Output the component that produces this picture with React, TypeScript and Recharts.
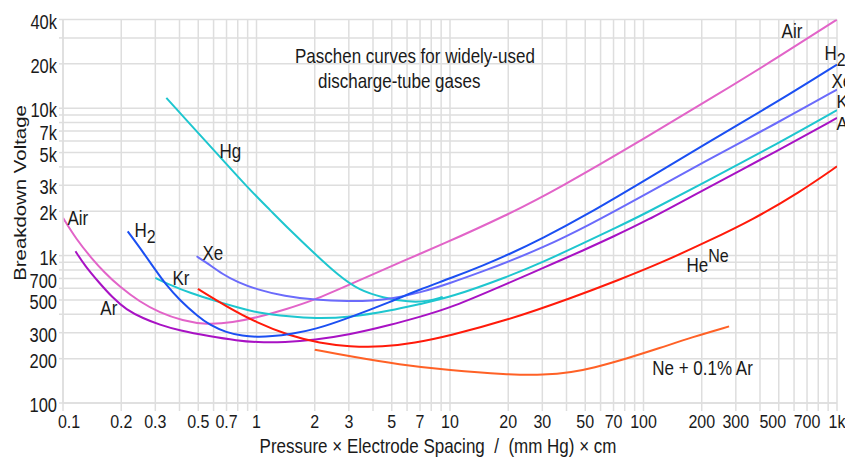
import React from 'react';
import { LineChart, Line, XAxis, YAxis, CartesianGrid, ReferenceDot } from 'recharts';

// ---- Data: pressure x spacing (mm Hg x cm) and breakdown voltage (V) ----
const AIR_P = [0.1, 0.1174, 0.14, 0.1638, 0.196, 0.2485, 0.3153, 0.4147, 0.5496, 0.751, 1.036, 1.43, 1.954, 3.024, 5.94, 8.83, 19.5, 36.8, 95.3, 247, 504, 1000];
const AIR_V = [1803, 1284, 965, 767, 616, 487, 411, 362, 340, 351, 384, 434, 495, 636, 940, 1169, 1868, 2880, 5963, 12620, 22460, 40000];

const H2_P = [0.216, 0.26, 0.3, 0.34, 0.4, 0.5, 0.57, 0.7, 0.85, 1, 1.2, 1.5, 2, 3, 5, 7, 10, 15, 20, 30, 50, 100, 200, 500, 1000];
const H2_V = [1460, 1050, 800, 636, 500, 385, 340, 300, 285, 281, 283, 293, 315, 378, 490, 590, 700, 863, 1014, 1307, 1870, 3200, 5550, 11200, 19800];

const XE_P = [0.49, 0.55, 0.67, 0.8, 1, 1.4, 2, 3, 4, 5, 7, 10, 15, 20, 30, 50, 100, 200, 500, 1000];
const XE_V = [990, 900, 745, 660, 590, 530, 500, 490, 495, 510, 560, 650, 788, 910, 1130, 1560, 2560, 4250, 8050, 13400];

const KR_P = [0.3, 0.37, 0.45, 0.62, 0.8, 1, 1.5, 2, 3, 5, 7, 10, 20, 30, 50, 70, 100, 200, 500, 1000];
const KR_V = [706, 620, 560, 490, 445, 410, 385, 375, 380, 425, 470, 520, 720, 900, 1230, 1520, 1900, 3080, 5800, 9700];

const AR_P = [0.116, 0.13, 0.154, 0.18, 0.212, 0.26, 0.315, 0.4, 0.57, 0.8, 1, 1.4, 2, 3, 5, 7, 10, 20, 30, 50, 70, 100, 200, 500, 1000];
const AR_V = [1070, 850, 653, 520, 430, 375, 340, 310, 284, 265, 258, 258, 268, 290, 340, 385, 440, 650, 820, 1100, 1350, 1680, 2750, 5200, 8600];

const NE_P = [0.498, 0.7, 1, 1.48, 2.12, 3.02, 4.48, 6.56, 9.9, 19.5, 43, 75.1, 121, 219, 367, 640, 1000];
const NE_V = [594, 451, 351, 286, 255, 241, 239.5, 255, 286, 362, 519, 687, 883, 1264, 1755, 2686, 4030];

const HG_P = [0.342, 0.45, 0.644, 0.92, 1.17, 1.48, 1.99, 2.68, 3.4, 4.48, 6.17, 7.83, 9.17];
const HG_V = [11750, 7890, 4720, 2806, 2050, 1500, 1035, 724, 582, 519, 482, 491, 525];

const NEAR_P = [2, 3.02, 5.48, 9.9, 19.5, 30.8, 42.9, 54.6, 81.7, 121, 179, 277];
const NEAR_V = [230, 207.5, 182, 166.6, 156, 154.6, 162, 172.6, 200, 235.6, 280, 331];

// ---- Axis ticks ----
const X_TICKS = [0.1, 0.2, 0.3, 0.4, 0.5, 0.6, 0.7, 0.8, 0.9, 1, 2, 3, 4, 5, 6, 7, 8, 9, 10, 20, 30, 40, 50, 60, 70, 80, 90, 100, 200, 300, 400, 500, 600, 700, 800, 900, 1000];
const X_TICK_LABELS = ['0.1', '0.2', '0.3', '', '0.5', '', '0.7', '', '', '1', '2', '3', '', '5', '', '7', '', '', '10', '20', '30', '', '50', '', '70', '', '', '100', '200', '300', '', '500', '', '700', '', '', '1k'];
const Y_TICKS = [100, 200, 300, 400, 500, 600, 700, 800, 900, 1000, 2000, 3000, 4000, 5000, 6000, 7000, 8000, 9000, 10000, 20000, 30000, 40000];
const Y_TICK_LABELS = ['100', '200', '300', '', '500', '', '700', '', '', '1k', '2k', '3k', '', '5k', '', '7k', '', '', '10k', '20k', '', '40k'];

// ---- Curve labels (data coordinates of text baseline-left) ----
const LABEL_TEXT = ['Air', 'H', 'Kr', 'Xe', 'Ar', 'Hg', 'He', 'Ne + 0.1% Ar', 'Air', 'H', 'Xe', 'Kr', 'Ar'];
const LABEL_SUB = ['', '2', '', '', '', '', '', '', '', '2', '', '', ''];
const LABEL_SUP = ['', '', '', '', '', '', 'Ne', '', '', '', '', '', ''];
const LABEL_P = [0.1055, 0.234, 0.368, 0.526, 0.156, 0.644, 167, 111, 517, 861, 937, 994, 994];
const LABEL_V = [1623, 1345, 636, 939, 398, 4625, 778, 156, 30100, 21400, 13800, 10000, 7150];
const LABEL_STRETCH = [1.2, 1.2, 1.2, 1.2, 1.2, 1.2, 1.2, 1.2, 1.2, 1.2, 1.2, 1.1, 1.1];

const toPts = (p: number[], v: number[]) => p.map((x, i) => ({ x, y: v[i] }));

const SERIES = [
  { name: 'Air', data: toPts(AIR_P, AIR_V), color: '#e264c8' },
  { name: 'Hg', data: toPts(HG_P, HG_V), color: '#1ec6cf' },
  { name: 'Kr', data: toPts(KR_P, KR_V), color: '#1ec6cf' },
  { name: 'Ar', data: toPts(AR_P, AR_V), color: '#a812c4' },
  { name: 'Ne+Ar', data: toPts(NEAR_P, NEAR_V), color: '#ff6126' },
  { name: 'Ne', data: toPts(NE_P, NE_V), color: '#ff1a0a' },
  { name: 'Xe', data: toPts(XE_P, XE_V), color: '#6b6bfb' },
  { name: 'H2', data: toPts(H2_P, H2_V), color: '#1b4ff2' },
];

const FONT = '"Liberation Sans", Arial, Helvetica, sans-serif';
const TXT = '#1a1a1a';

const XTick = (props: any) => {
  const { x, y, payload } = props;
  const i = X_TICKS.indexOf(payload.value);
  const label = i >= 0 ? X_TICK_LABELS[i] : '';
  if (!label) return <g />;
  const shift = payload.value === 0.1 ? 6 : payload.value === 500 ? -6 : 0;
  return (
    <text
      transform={`translate(${x + shift},${y + 15}) scale(1,1.2)`}
      textAnchor="middle"
      fontSize={16}
      fontFamily={FONT}
      fill={TXT}
    >
      {label}
    </text>
  );
};

const YTick = (props: any) => {
  const { x, y, payload } = props;
  const i = Y_TICKS.indexOf(payload.value);
  const label = i >= 0 ? Y_TICK_LABELS[i] : '';
  if (!label) return <g />;
  return (
    <text
      transform={`translate(${x},${y + 2}) scale(1,1.2)`}
      textAnchor="end"
      dy="0.36em"
      fontSize={16.5}
      fontFamily={FONT}
      fill={TXT}
    >
      {label}
    </text>
  );
};

const makeLabelShape = (i: number) => (p: any) => {
  const cx = p.cx;
  const cy = p.cy;
  return (
    <text transform={`translate(${cx},${cy}) scale(1,${LABEL_STRETCH[i]})`} fontSize={17} fontFamily={FONT} fill={TXT}>
      {LABEL_TEXT[i]}
      {LABEL_SUB[i] ? (
        <tspan dy={5} fontSize={16}>{LABEL_SUB[i]}</tspan>
      ) : null}
      {LABEL_SUP[i] ? (
        <tspan dy={-8} fontSize={16}>{LABEL_SUP[i]}</tspan>
      ) : null}
    </text>
  );
};

export default function App() {
  return (
    <div style={{ width: 845, height: 451, background: '#fff' }}>
      <LineChart
        width={845}
        height={451}
        margin={{ top: 11.5, right: 16, bottom: 0, left: 0 }}
        style={{ background: '#fff' }}
      >
        <CartesianGrid stroke="#dedede" strokeWidth={1.5} />
        <XAxis
          dataKey="x"
          type="number"
          scale="log"
          domain={[0.1, 1000]}
          ticks={X_TICKS}
          interval={0}
          allowDataOverflow
          height={56}
          tickSize={8}
          tickLine={{ stroke: '#dedede', strokeWidth: 1.5 }}
          axisLine={{ stroke: '#dedede', strokeWidth: 1.5 }}
          tick={<XTick />}
        />
        <YAxis
          type="number"
          scale="log"
          domain={[100, 40000]}
          ticks={Y_TICKS}
          interval={0}
          allowDataOverflow
          width={55}
          tickSize={4}
          tickLine={{ stroke: '#dedede', strokeWidth: 1.5 }}
          axisLine={{ stroke: '#dedede', strokeWidth: 1.5 }}
          tick={<YTick />}
        />
        {SERIES.map((s) => (
          <Line
            key={s.name}
            data={s.data}
            dataKey="y"
            type="basis"
            stroke={s.color}
            strokeWidth={2}
            dot={false}
            activeDot={false}
            isAnimationActive={false}
          />
        ))}
        {LABEL_TEXT.map((t, i) => (
          <ReferenceDot
            key={i}
            x={LABEL_P[i]}
            y={LABEL_V[i]}
            r={0}
            ifOverflow="visible"
            shape={makeLabelShape(i)}
          />
        ))}
        <text transform="translate(287,55) scale(1,1.2)" fontSize={17} fontFamily={FONT} fill={TXT}>
          Paschen curves for widely-used
        </text>
        <text transform="translate(310,80) scale(1,1.2)" fontSize={17} fontFamily={FONT} fill={TXT}>
          discharge-tube gases
        </text>
        <text
          transform="translate(430,445) scale(1,1.2)"
          textAnchor="middle"
          fontSize={17}
          fontFamily={FONT}
          fill={TXT}
          style={{ whiteSpace: 'pre' }}
        >
          {'Pressure \u00d7 Electrode Spacing  /  (mm Hg) \u00d7 cm'}
        </text>
        <text
          transform="translate(18,185) rotate(-90) scale(1.2,1)"
          textAnchor="middle"
          fontSize={17}
          fontFamily={FONT}
          fill={TXT}
        >
          Breakdown Voltage
        </text>
      </LineChart>
    </div>
  );
}
